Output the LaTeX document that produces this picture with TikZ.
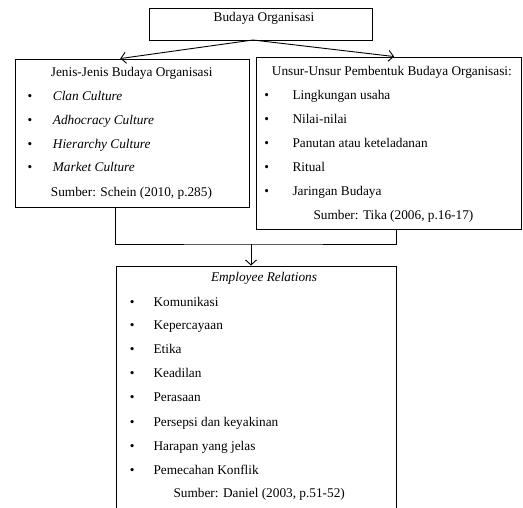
\documentclass[tikz,border=0pt]{standalone}
\usepackage{fontspec}
\setmainfont{Liberation Serif}
\usetikzlibrary{arrows.meta,calc}
\begin{document}
\begin{tikzpicture}[x=1pt,y=-1pt,
  box/.style={draw, line width=0.9pt, rectangle, inner sep=0pt},
  txt/.style={inner sep=0pt, anchor=base west, font=\fontsize{13.3}{16}\selectfont},
  ctxt/.style={inner sep=0pt, anchor=base, font=\fontsize{13.3}{16}\selectfont},
  bul/.style={inner sep=0pt, anchor=base, font=\fontsize{13.3}{16}\selectfont},
  conn/.style={line width=0.9pt},
  arr/.style={line width=0.9pt, -{Straight Barb[length=5pt,width=11pt]}}]
\useasboundingbox (0,0) rectangle (523,508);
% boxes
\node[box, minimum width=223pt, minimum height=32pt] (top) at (260.5,24) {};
\node[box, minimum width=234pt, minimum height=148pt] (left) at (132,133) {};
\node[box, minimum width=265.5pt, minimum height=172pt] (right) at (388.75,143) {};
\node[box, minimum width=280pt, minimum height=254pt] (bot) at (256,393) {};
% top text
\node[ctxt] (ttop) at (264,22) {Budaya Organisasi};
% left box text
\node[txt] (lt) at (50.7,77) {Jenis-Jenis Budaya Organisasi};
\node[bul] (lb1) at (30,101) {•};
\node[bul] (lb2) at (30,124.5) {•};
\node[bul] (lb3) at (30,148.5) {•};
\node[bul] (lb4) at (30,172) {•};
\node[txt] (l1) at (52.7,101) {\itshape Clan Culture};
\node[txt] (l2) at (52.7,124.5) {\itshape Adhocracy Culture};
\node[txt] (l3) at (52.7,148.5) {\itshape Hierarchy Culture};
\node[txt] (l4) at (52.7,172) {\itshape Market Culture};
\node[txt] (ls) at (50.7,196.5) {Sumber: Schein (2010, p.285)};
% right box text
\node[txt] (rt) at (271.7,76) {Unsur-Unsur Pembentuk Budaya Organisasi:};
\node[bul] (rb1) at (266.7,99.5) {•};
\node[bul] (rb2) at (266.7,123.5) {•};
\node[bul] (rb3) at (266.7,148) {•};
\node[bul] (rb4) at (266.7,171.5) {•};
\node[bul] (rb5) at (266.7,196) {•};
\node[txt] (r1) at (292.3,99.5) {Lingkungan usaha};
\node[txt] (r2) at (292.3,123.5) {Nilai-nilai};
\node[txt] (r3) at (292.3,148) {Panutan atau keteladanan};
\node[txt] (r4) at (292.3,171.5) {Ritual};
\node[txt] (r5) at (292.3,196) {Jaringan Budaya};
\node[txt] (rs) at (313.3,219.5) {Sumber: Tika (2006, p.16-17)};
% bottom box text
\node[ctxt] (bt) at (264,282) {\itshape Employee Relations};
\node[bul] (bb1) at (132.3,306.5) {•};
\node[bul] (bb2) at (132.3,330) {•};
\node[bul] (bb3) at (132.3,353.5) {•};
\node[bul] (bb4) at (132.3,377.5) {•};
\node[bul] (bb5) at (132.3,401) {•};
\node[bul] (bb6) at (132.3,426) {•};
\node[bul] (bb7) at (132.3,450) {•};
\node[bul] (bb8) at (132.3,474) {•};
\node[txt] (b1) at (153.3,306.5) {Komunikasi};
\node[txt] (b2) at (153.3,330) {Kepercayaan};
\node[txt] (b3) at (153.3,353.5) {Etika};
\node[txt] (b4) at (153.3,377.5) {Keadilan};
\node[txt] (b5) at (153.3,401) {Perasaan};
\node[txt] (b6) at (153.3,426) {Persepsi dan keyakinan};
\node[txt] (b7) at (153.3,450) {Harapan yang jelas};
\node[txt] (b8) at (153.3,474) {Pemecahan Konflik};
\node[txt] (bs) at (173.3,497) {Sumber: Daniel (2003, p.51-52)};
% connectors
\coordinate (src) at (253,40);
\draw[arr] (src) -- ($(left.north west)!0.45!(left.north east)$);
\draw[arr] (src) -- ($(right.north west)!0.52!(right.north east)$);
\coordinate (j) at (251,244);
\draw[conn] (left.south -| bot.west) |- (j) -| (right.south -| bot.east);
\draw[arr] (j) -- (bot.north -| j);
\end{tikzpicture}
\end{document}
